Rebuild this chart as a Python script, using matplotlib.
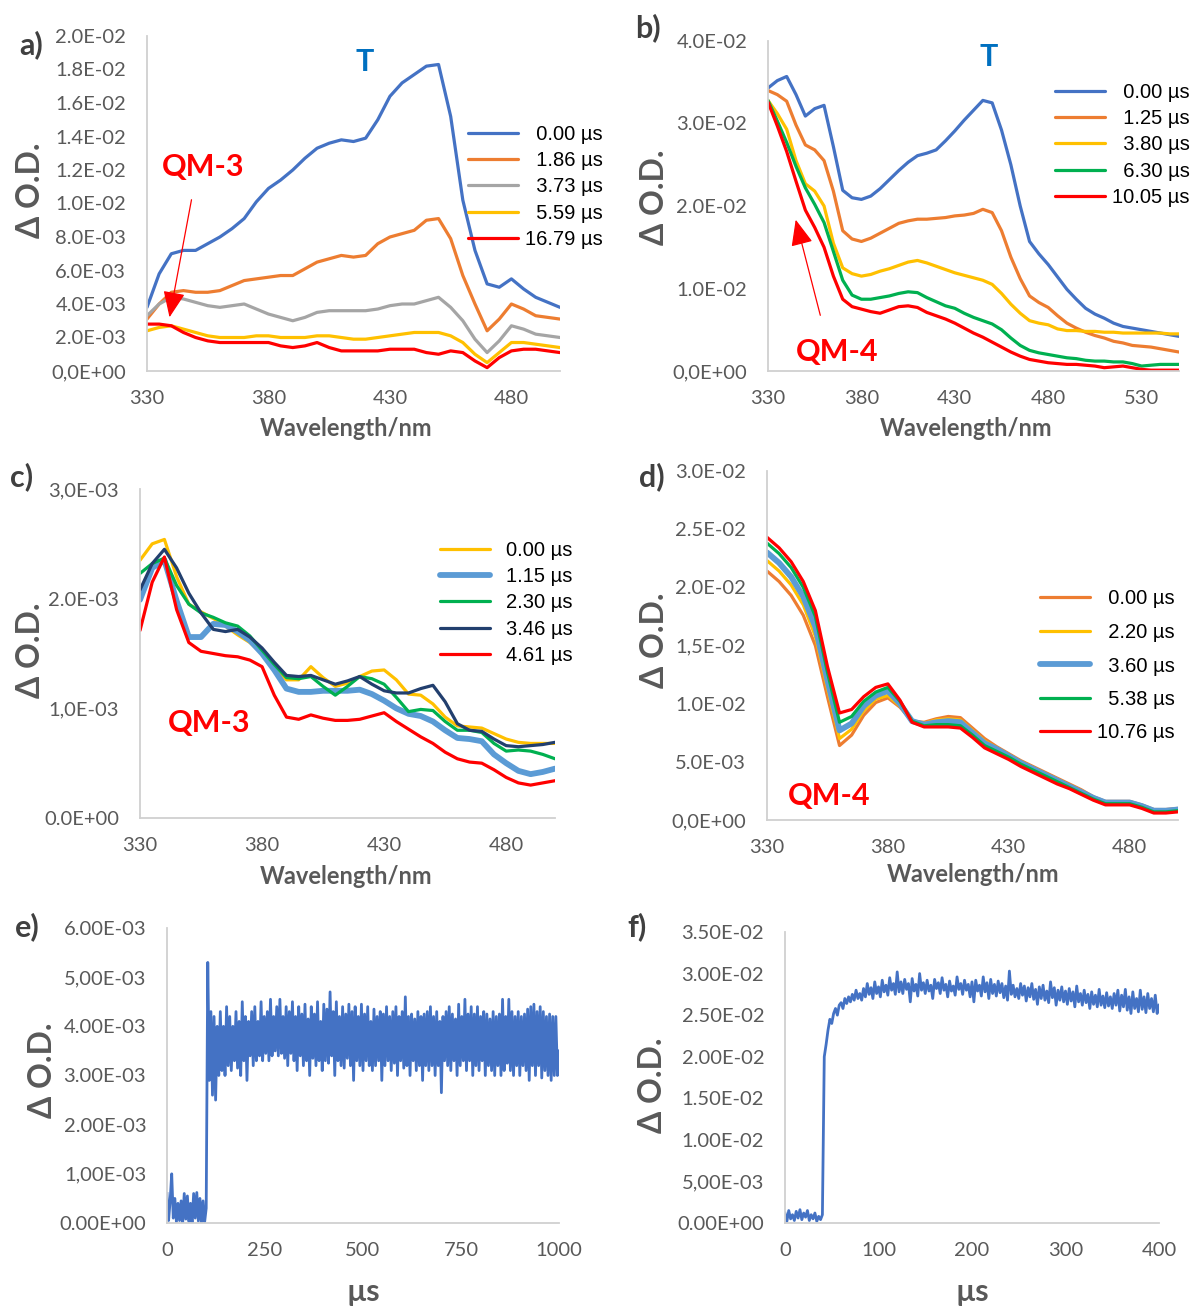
import numpy as np
import matplotlib
matplotlib.use("Agg")
from matplotlib import pyplot as plt

plt.rcParams['font.family'] = ['Lato', 'DejaVu Sans']

W, H = 1195, 1309

# ---------------- a) QM-3, 0-16.79 us ----------------
wl_a = np.arange(330, 501, 5)
a_labels = ["  0.00 µs", "  1.86 µs", "  3.73 µs", "  5.59 µs", "16.79 µs"]
a_000 = [.0038, .0058, .0070, .0072, .0072, .0076, .0080, .0085, .0091, .0101,
         .0109, .0114, .0120, .0127, .0133, .0136, .0138, .0137, .0139, .0150,
         .0164, .0172, .0177, .0182, .0183, .0152, .0102, .0072, .0052, .0050,
         .0055, .0049, .0044, .0041, .0038]
a_186 = [.0031, .0040, .0047, .0048, .0047, .0047, .0048, .0051, .0054, .0055,
         .0056, .0057, .0057, .0061, .0065, .0067, .0069, .0068, .0069, .0076,
         .0080, .0082, .0084, .0090, .0091, .0079, .0057, .0040, .0024, .0031,
         .0040, .0037, .0033, .0032, .0031]
a_373 = [.0033, .0040, .0044, .0043, .0041, .0039, .0038, .0039, .0040, .0037,
         .0034, .0032, .0030, .0032, .0035, .0036, .0036, .0036, .0036, .0037,
         .0039, .0040, .0040, .0042, .0044, .0038, .0030, .0019, .0011, .0018,
         .0027, .0025, .0022, .0021, .0020]
a_559 = [.0024, .0026, .0027, .0025, .0023, .0021, .0020, .0020, .0020, .0021,
         .0021, .0020, .0020, .0020, .0021, .0021, .0020, .0019, .0019, .0020,
         .0021, .0022, .0023, .0023, .0023, .0021, .0017, .0010, .0005, .0011,
         .0017, .0017, .0016, .0015, .0014]
a_1679 = [.0028, .0028, .0027, .0023, .0020, .0018, .0017, .0017, .0017, .0017,
          .0017, .0015, .0014, .0015, .0017, .0014, .0012, .0012, .0012, .0012,
          .0013, .0013, .0013, .0011, .0010, .0012, .0011, .0006, .0002, .0008,
          .0012, .0013, .0013, .0012, .0011]

# ---------------- b) QM-4, 0-10.05 us ----------------
wl_b = np.arange(330, 551, 5)
b_labels = ["  0.00 µs", "  1.25 µs", "  3.80 µs", "  6.30 µs", "10.05 µs"]
b_000 = [.0343, .0352, .0357, .0335, .0309, .0318, .0322, .0272, .0219, .0210,
         .0208, .0212, .0221, .0232, .0243, .0253, .0261, .0264, .0268, .0279,
         .0291, .0304, .0316, .0328, .0325, .0292, .0250, .0200, .0157, .0142,
         .0129, .0114, .0099, .0087, .0076, .0069, .0064, .0058, .0054, .0052,
         .0050, .0048, .0046, .0044, .0042]
b_125 = [.0340, .0335, .0327, .0298, .0274, .0268, .0255, .0218, .0170, .0160,
         .0157, .0161, .0167, .0173, .0179, .0182, .0184, .0184, .0185, .0186,
         .0188, .0189, .0191, .0196, .0192, .0170, .0138, .0112, .0091, .0083,
         .0077, .0067, .0058, .0052, .0047, .0043, .0040, .0036, .0034, .0031,
         .0030, .0029, .0027, .0025, .0023]
b_380 = [.0328, .0312, .0293, .0255, .0227, .0218, .0200, .0155, .0125, .0118,
         .0115, .0117, .0121, .0124, .0128, .0132, .0134, .0131, .0127, .0123,
         .0119, .0116, .0113, .0110, .0105, .0094, .0081, .0070, .0061, .0058,
         .0056, .0051, .0049, .0049, .0048, .0048, .0047, .0047, .0046, .0046,
         .0046, .0046, .0046, .0045, .0045]
b_630 = [.0328, .0303, .0277, .0248, .0222, .0202, .0180, .0145, .0110, .0092,
         .0087, .0087, .0089, .0091, .0094, .0096, .0095, .0089, .0084, .0079,
         .0076, .0070, .0065, .0061, .0057, .0050, .0040, .0031, .0025, .0022,
         .0020, .0018, .0016, .0015, .0013, .0012, .0012, .0011, .0011, .0009,
         .0006, .0007, .0008, .0008, .0008]
b_1005 = [.0326, .0297, .0266, .0230, .0195, .0174, .0150, .0115, .0087, .0078,
          .0075, .0072, .0070, .0074, .0078, .0079, .0077, .0071, .0067, .0063,
          .0058, .0052, .0046, .0041, .0035, .0029, .0023, .0018, .0014, .0012,
          .0010, .0009, .0008, .0008, .0007, .0006, .0004, .0005, .0006, .0004,
          .0002, .0001, .0001, .0001, .0001]

# ---------------- c) QM-3, 0-4.61 us ----------------
wl_c = np.arange(330, 501, 5)
c_labels = ["0.00 µs", "1.15 µs", "2.30 µs", "3.46 µs", "4.61 µs"]
c_000 = [.00235, .00250, .00254, .00220, .00195, .00188, .00182, .00175, .00167, .00160,
         .00150, .00138, .00126, .00126, .00138, .00128, .00120, .00123, .00129, .00134,
         .00135, .00126, .00113, .00112, .00104, .00092, .00084, .00083, .00082, .00077,
         .00072, .00069, .00068, .00068, .00068]
c_115 = [.00199, .00228, .00235, .00198, .00165, .00165, .00177, .00176, .00170, .00162,
         .00150, .00135, .00118, .00115, .00115, .00116, .00116, .00116, .00117, .00113,
         .00107, .00100, .00095, .00093, .00088, .00080, .00073, .00072, .00070, .00058,
         .00050, .00043, .00040, .00042, .00045]
c_230 = [.00223, .00232, .00237, .00212, .00195, .00187, .00183, .00178, .00175, .00166,
         .00153, .00140, .00128, .00127, .00129, .00120, .00112, .00120, .00129, .00127,
         .00122, .00110, .00097, .00099, .00098, .00088, .00080, .00080, .00078, .00068,
         .00061, .00062, .00061, .00058, .00054]
c_346 = [.00208, .00232, .00245, .00228, .00205, .00187, .00172, .00170, .00172, .00165,
         .00155, .00142, .00130, .00129, .00130, .00126, .00122, .00125, .00129, .00122,
         .00116, .00114, .00114, .00118, .00121, .00106, .00086, .00080, .00079, .00072,
         .00066, .00065, .00066, .00067, .00069]
c_461 = [.00171, .00215, .00238, .00190, .00160, .00152, .00150, .00148, .00147, .00144,
         .00138, .00112, .00092, .00090, .00094, .00091, .00089, .00089, .00090, .00093,
         .00096, .00088, .00081, .00074, .00068, .00060, .00054, .00051, .00050, .00044,
         .00037, .00032, .00030, .00032, .00034]

# ---------------- d) QM-4, 0-10.76 us ----------------
wl_d = np.arange(330, 501, 5)
d_labels = ["  0.00 µs", "  2.20 µs", "  3.60 µs", "  5.38 µs", "10.76 µs"]
d_000 = [.0214, .0205, .0193, .0176, .0150, .0106, .0064, .0073, .0090, .0101,
         .0105, .0097, .0085, .0084, .0087, .0089, .0088, .0079, .0070, .0063,
         .0057, .0051, .0046, .0041, .0036, .0031, .0026, .0020, .0016, .0016,
         .0016, .0013, .0009, .0009, .0010]
d_220 = [.0223, .0214, .0202, .0185, .0158, .0113, .0070, .0078, .0094, .0104,
         .0107, .0098, .0085, .0083, .0086, .0087, .0086, .0077, .0068, .0062,
         .0056, .0050, .0045, .0040, .0035, .0030, .0025, .0019, .0015, .0015,
         .0015, .0012, .0008, .0008, .0009]
d_360 = [.0230, .0221, .0209, .0192, .0166, .0120, .0077, .0083, .0098, .0107,
         .0111, .0100, .0085, .0082, .0084, .0085, .0084, .0075, .0066, .0061,
         .0055, .0049, .0044, .0039, .0034, .0029, .0024, .0019, .0015, .0015,
         .0015, .0012, .0008, .0008, .0009]
d_538 = [.0238, .0229, .0217, .0200, .0175, .0127, .0084, .0089, .0102, .0110,
         .0114, .0102, .0085, .0081, .0082, .0082, .0081, .0073, .0064, .0059,
         .0054, .0048, .0043, .0038, .0033, .0028, .0023, .0018, .0014, .0014,
         .0014, .0011, .0007, .0007, .0008]
d_1076 = [.0243, .0234, .0222, .0205, .0180, .0132, .0092, .0095, .0106, .0114,
          .0117, .0103, .0084, .0080, .0080, .0080, .0079, .0071, .0062, .0057,
          .0052, .0046, .0041, .0036, .0031, .0027, .0022, .0017, .0013, .0013,
          .0013, .0010, .0006, .0006, .0007]

# ---------------- e) kinetic trace, QM-3 (units of 1e-5 O.D., every 4 us) ----------------
e_rows = [
    [60, 5, 45, 100, 10, 50, 2, 40, 5, 45, 0, 60, 8, 55, 3, 40, 0, 60, 10, 62, 4, 50, 0, 45, 2],
    [30, 530, 290, 430, 260, 420, 250, 400, 300, 430, 310, 400, 300, 440, 320, 420, 310, 400, 330, 430, 315, 410, 300, 450, 330],
    [420, 290, 410, 340, 430, 320, 440, 330, 410, 340, 450, 330, 420, 345, 430, 330, 455, 340, 420, 350, 440, 340, 455, 345, 420],
    [335, 440, 320, 430, 345, 450, 330, 420, 310, 440, 340, 425, 320, 445, 330, 415, 300, 440, 335, 425, 320, 450, 330, 410, 310],
    [445, 330, 435, 325, 470, 340, 430, 300, 450, 330, 420, 320, 440, 315, 425, 335, 445, 320, 430, 290, 440, 330, 420, 320, 445],
    [310, 425, 330, 440, 320, 410, 310, 435, 320, 420, 330, 430, 290, 425, 320, 440, 330, 420, 310, 430, 325, 440, 300, 420, 330],
    [430, 315, 460, 320, 420, 300, 425, 330, 415, 310, 430, 320, 420, 290, 425, 320, 430, 310, 440, 320, 420, 300, 430, 320, 410],
    [265, 420, 330, 430, 320, 440, 310, 425, 330, 415, 300, 445, 320, 420, 330, 455, 310, 425, 330, 440, 300, 425, 320, 440, 310],
    [420, 330, 430, 300, 425, 320, 415, 310, 430, 300, 420, 320, 425, 300, 455, 310, 420, 325, 455, 310, 430, 300, 420, 320, 430],
    [300, 420, 320, 425, 310, 435, 290, 440, 320, 445, 300, 430, 320, 440, 295, 430, 310, 420, 300, 425, 290, 420, 300, 420, 300],
    [350],
]

# ---------------- f) kinetic trace, QM-4 (units of 1e-4 O.D., every 2 us) ----------------
f_rows = [
    [12, 2, 15, 5, 10, 3, 14, 6, 16, 4, 12, 7, 15, 3, 10, 5, 12, 2, 8, 4, 10, 200, 215, 232, 245],
    [240, 252, 258, 250, 262, 265, 258, 270, 264, 272, 266, 275, 268, 280, 270, 276, 268, 282, 272, 288, 275, 283, 270, 290, 276],
    [284, 272, 292, 278, 286, 274, 295, 280, 288, 275, 302, 278, 290, 276, 293, 281, 288, 266, 294, 279, 287, 273, 300, 280, 289],
    [276, 292, 279, 286, 270, 293, 282, 289, 276, 295, 280, 287, 272, 291, 279, 285, 274, 296, 281, 288, 275, 292, 280, 287, 272],
    [290, 266, 292, 279, 286, 273, 296, 278, 289, 270, 293, 276, 287, 273, 291, 277, 288, 271, 285, 268, 303, 275, 286, 272, 282],
    [270, 288, 274, 285, 267, 283, 272, 288, 269, 281, 263, 284, 270, 286, 268, 279, 265, 290, 271, 283, 262, 280, 268, 284, 266],
    [279, 263, 282, 267, 278, 260, 285, 266, 276, 262, 280, 265, 275, 258, 278, 263, 274, 260, 281, 262, 273, 259, 277, 261, 272],
    [258, 276, 262, 280, 255, 274, 260, 281, 256, 272, 252, 278, 258, 270, 254, 280, 257, 272, 253, 276, 258, 270, 254, 274, 252],
    [262],
]

e_od = np.concatenate(e_rows) * 1e-5
t_e = 4.0 * np.arange(len(e_od))
f_od = np.concatenate(f_rows) * 1e-4
t_f = 2.0 * np.arange(len(f_od))

BLUE, ORANGE, GRAY, YELLOW = '#4472C4', '#ED7D31', '#A5A5A5', '#FFC000'
GREEN, RED, LBLUE, NAVY = '#00B050', '#FF0000', '#5B9BD5', '#223F6E'
TICK = '#595959'
LABEL = '#595959'

fig = plt.figure(figsize=(W / 100, H / 100), dpi=100)


def fx(x):
    return x / W


def fy(y):
    return 1 - y / H


def make_axes(left, top, right, bottom):
    return fig.add_axes([fx(left), fy(bottom), (right - left) / W, (bottom - top) / H])


def style(ax, xlim, xticks, ylim, yticks, ylabels):
    ax.set_xlim(*xlim)
    ax.set_ylim(*ylim)
    ax.set_xticks(xticks)
    ax.set_yticks(yticks)
    ax.set_yticklabels(ylabels)
    for s in ['top', 'right']:
        ax.spines[s].set_visible(False)
    for s in ['left', 'bottom']:
        ax.spines[s].set_color('#D0D0D0')
        ax.spines[s].set_linewidth(1.3)
    ax.tick_params(axis='both', length=0, labelsize=14.5, colors=TICK)
    ax.tick_params(axis='y', pad=15)
    ax.tick_params(axis='x', pad=14)
    ax.patch.set_alpha(0)


def legend(ax, x, y, spacing, textpad=0.35):
    leg = ax.legend(loc='center left', bbox_to_anchor=(fx(x), fy(y)),
                    bbox_transform=fig.transFigure, frameon=False,
                    prop={'family': 'Liberation Sans', 'size': 14.5},
                    handlelength=2.5, handletextpad=textpad, labelspacing=spacing,
                    borderpad=0, borderaxespad=0)
    for t in leg.get_texts():
        t.set_color('#000000')
    return leg


def ylab(x, y):
    fig.text(fx(x), fy(y), "Δ O.D.", rotation=90, ha='center', va='center',
             fontsize=23, fontweight='bold', color=LABEL)


def xlab(x, y, s, size=17):
    fig.text(fx(x), fy(y), s, ha='center', va='center', fontsize=size,
             fontweight='bold', color=LABEL)


def tag(x, y, s):
    fig.text(fx(x), fy(y), s, ha='center', va='center', fontsize=22,
             fontweight='bold', color='#404040')


def note(x, y, s, color):
    fig.text(fx(x), fy(y), s, ha='center', va='center', fontsize=22,
             fontweight='bold', color=color)


def arrow(x0, y0, x1, y1):
    fig.add_artist(matplotlib.patches.FancyArrowPatch(
        (fx(x0), fy(y0)), (fx(x1), fy(y1)), transform=fig.transFigure,
        arrowstyle='-|>,head_length=0.9,head_width=0.38', mutation_scale=18,
        color=RED, lw=0.9))


LW = 2.3

# a)
ax = make_axes(147, 36, 560, 371)
for y, c, lab in zip([a_000, a_186, a_373, a_559, a_1679],
                     [BLUE, ORANGE, GRAY, YELLOW, RED], a_labels):
    ax.plot(wl_a, y, color=c, lw=LW, label=lab, solid_capstyle='round')
style(ax, (330, 500), [330, 380, 430, 480], (0, 0.02), np.arange(0, 0.0201, 0.002),
      ["0,0E+00", "2.0E-03", "4.0E-03", "6.0E-03", "8.0E-03", "1.0E-02",
       "1.2E-02", "1.4E-02", "1.6E-02", "1.8E-02", "2.0E-02"])
legend(ax, 468, 187, 0.37)
ylab(30, 190)
xlab(346, 428, "Wavelength/nm")
tag(31, 45, "a)")
note(365, 62, "T", '#0070C0')
note(203, 167, "QM-3", RED)
arrow(192, 197, 169, 320)

# b)
ax = make_axes(768, 41, 1179, 371)
for y, c, lab in zip([b_000, b_125, b_380, b_630, b_1005],
                     [BLUE, ORANGE, YELLOW, GREEN, RED], b_labels):
    ax.plot(wl_b, y, color=c, lw=LW, label=lab, solid_capstyle='round')
style(ax, (330, 550), [330, 380, 430, 480, 530], (0, 0.04), np.arange(0, 0.0401, 0.01),
      ["0,0E+00", "1.0E-02", "2.0E-02", "3.0E-02", "4.0E-02"])
legend(ax, 1055, 145, 0.37)
ylab(655, 197)
xlab(966, 428, "Wavelength/nm")
tag(648, 28, "b)")
note(989, 57, "T", '#0070C0')
note(837, 352, "QM-4", RED)
arrow(821, 318, 795, 217)

# c)
ax = make_axes(140, 489, 555, 818)
for y, c, lab, w in zip([c_000, c_115, c_230, c_346, c_461],
                        [YELLOW, LBLUE, GREEN, NAVY, RED], c_labels,
                        [LW, 4.2, LW, LW, LW]):
    ax.plot(wl_c, y, color=c, lw=w, label=lab, solid_capstyle='round')
style(ax, (330, 500), [330, 380, 430, 480], (0, 0.003), np.arange(0, 0.00301, 0.001),
      ["0.0E+00", "1,0E-03", "2.0E-03", "3,0E-03"])
legend(ax, 440, 603, 0.37, textpad=0.8)
ylab(30, 650)
xlab(346, 877, "Wavelength/nm")
tag(22, 477, "c)")
note(209, 723, "QM-3", RED)

# d)
ax = make_axes(767, 471, 1178, 820)
for y, c, lab, w in zip([d_000, d_220, d_360, d_538, d_1076],
                        [ORANGE, YELLOW, LBLUE, GREEN, RED], d_labels,
                        [LW, LW, 4.2, LW, LW]):
    ax.plot(wl_d, y, color=c, lw=w, label=lab, solid_capstyle='round')
style(ax, (330, 500), [330, 380, 430, 480], (0, 0.03), np.arange(0, 0.0301, 0.005),
      ["0,0E+00", "5.0E-03", "1.0E-02", "1,5E-02", "2.0E-02", "2.5E-02", "3.0E-02"])
legend(ax, 1040, 666, 0.72)
ylab(655, 640)
xlab(973, 874, "Wavelength/nm")
tag(652, 477, "d)")
note(829, 796, "QM-4", RED)

# e)
ax = make_axes(167, 928, 559, 1223)
ax.plot(t_e, e_od, color=BLUE, lw=2.0)
style(ax, (0, 1000), [0, 250, 500, 750, 1000], (0, 0.006), np.arange(0, 0.00601, 0.001),
      ["0.00E+00", "1,00E-03", "2.00E-03", "3.00E-03", "4.00E-03", "5,00E-03", "6.00E-03"])
ylab(42, 1070)
xlab(363, 1292, "µs", size=22)
tag(27, 927, "e)")

# f)
ax = make_axes(785, 932, 1159, 1223)
ax.plot(t_f, f_od, color=BLUE, lw=2.0)
style(ax, (0, 400), [0, 100, 200, 300, 400], (0, 0.035), np.arange(0, 0.03501, 0.005),
      ["0.00E+00", "5,00E-03", "1.00E-02", "1.50E-02", "2.00E-02", "2.50E-02",
       "3.00E-02", "3.50E-02"])
ylab(652, 1085)
xlab(972, 1292, "µs", size=22)
tag(637, 927, "f)")

fig.savefig("out.png", dpi=100)
